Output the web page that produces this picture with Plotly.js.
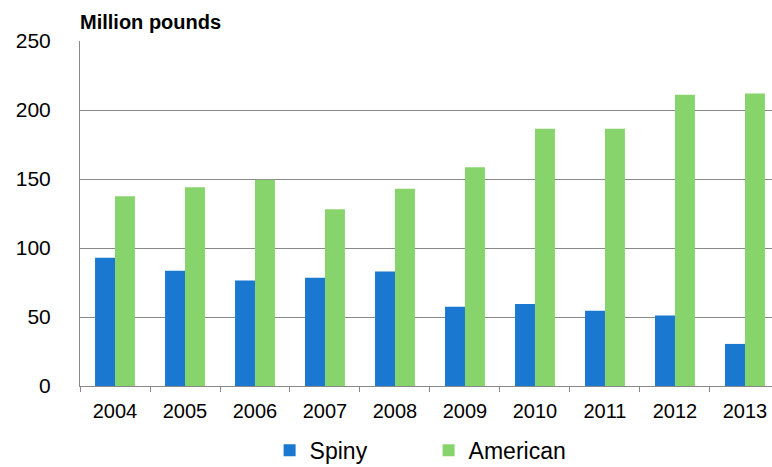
<!DOCTYPE html>
<html>
<head>
<meta charset="utf-8">
<script src="https://cdn.plot.ly/plotly-3.0.1.min.js"></script>
<style>html,body{margin:0;padding:0;background:#fff;overflow:hidden}#chart{width:772px;height:467px}</style>
</head>
<body>
<div id="chart"></div>
<script>
const years = ["2004","2005","2006","2007","2008","2009","2010","2011","2012","2013"];
const spiny = [93, 83.5, 76.5, 78.5, 83, 57.5, 59.5, 54.5, 51, 30.5];
const american = [137.5, 144, 149.5, 128, 143, 158.5, 186.5, 186.5, 211, 212];
const yTicks = [0, 50, 100, 150, 200, 250];

const traces = [
  {type: "bar", name: "Spiny", x: years, y: spiny, marker: {color: "#1a78d0"}},
  {type: "bar", name: "American", x: years, y: american, marker: {color: "#88d46c"}}
];
const layout = {
  width: 772, height: 467,
  margin: {l: 80, r: 0, t: 41, b: 81},
  paper_bgcolor: "#fff", plot_bgcolor: "#fff",
  font: {family: "Liberation Sans, Arial, sans-serif", color: "#000"},
  barmode: "group", bargap: 0.43, bargroupgap: 0,
  showlegend: true,
  legend: {orientation: "h", xref: "paper", x: 0.274, xanchor: "left",
           yref: "container", y: 0.036, yanchor: "middle",
           font: {size: 23, color: "#000"}, entrywidth: 114, entrywidthmode: "pixels",
           itemwidth: 30, traceorder: "normal", bgcolor: "rgba(0,0,0,0)"},
  xaxis: {type: "category", range: [-0.5, 9.386], tickson: "boundaries",
          ticks: "outside", ticklen: 5, tickcolor: "#888", tickwidth: 1,
          showline: true, linecolor: "#888", linewidth: 1,
          tickfont: {size: 20}, ticklabelstandoff: 7, showgrid: false, fixedrange: true},
  yaxis: {range: [0, 250], tickvals: yTicks, ticks: "", showline: true,
          linecolor: "#888", linewidth: 1, gridcolor: "#888", gridwidth: 1,
          zeroline: false, tickfont: {size: 21}, ticklabelstandoff: 24, fixedrange: true},
  annotations: [{text: "<b>Million pounds</b>", xref: "paper", yref: "paper",
                 x: 0, y: 1, xanchor: "left", yanchor: "bottom", yshift: 6, xshift: -2,
                 showarrow: false, font: {size: 20, color: "#000"}}]
};
Plotly.newPlot("chart", traces, layout, {displayModeBar: false, staticPlot: true});
</script>
</body>
</html>
